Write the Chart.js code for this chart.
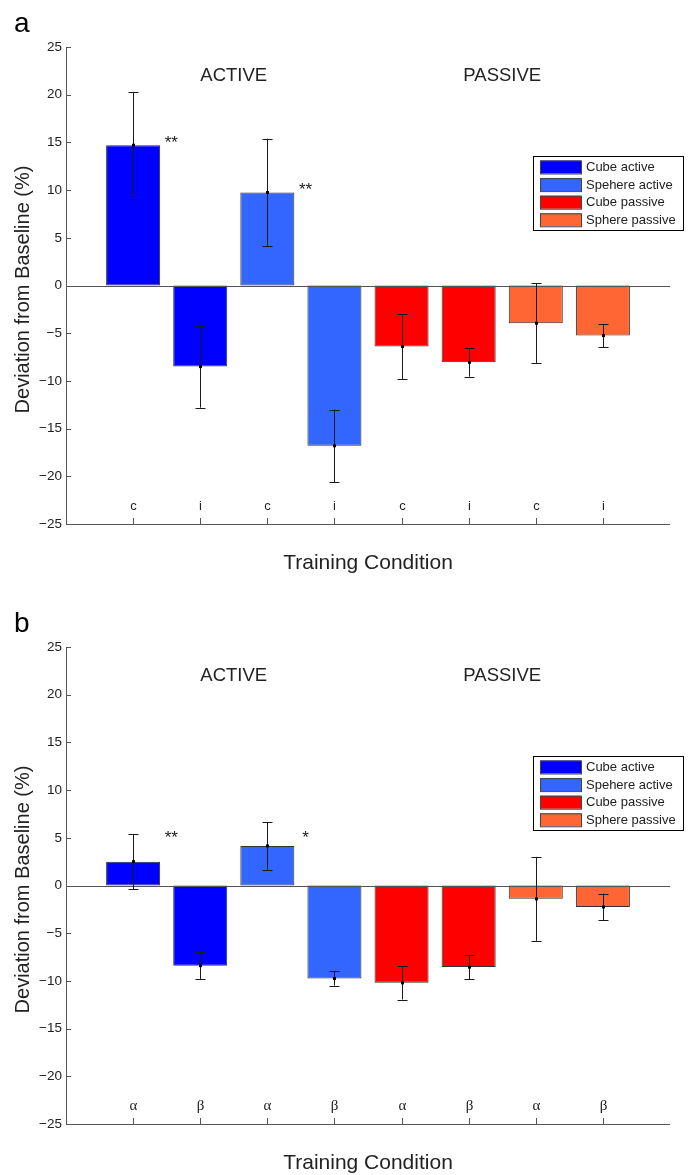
<!DOCTYPE html>
<html>
<head>
<meta charset="utf-8">
<script src="https://cdn.jsdelivr.net/npm/chart.js@4.4.1/dist/chart.umd.min.js"></script>
<style>
  html, body { margin: 0; padding: 0; background: #fff; width: 694px; height: 1175px; overflow: hidden; }
  .panel { position: absolute; left: 0; width: 694px; }
</style>
</head>
<body>
<div class="panel" style="top:0;height:600px"><canvas id="chartA" width="694" height="600"></canvas></div>
<div class="panel" style="top:600px;height:575px"><canvas id="chartB" width="694" height="575"></canvas></div>
<script>
// ---- data ----
const seriesNames = ['Cube active', 'Spehere active', 'Cube passive', 'Sphere passive'];
const groupLabels = ['ACTIVE', 'PASSIVE'];
const yTickValues = [-25, -20, -15, -10, -5, 0, 5, 10, 15, 20, 25];

// panel a
const tickLabelsA = ['c', 'i', 'c', 'i', 'c', 'i', 'c', 'i'];
const cubeActiveA = [14.7, -8.5];
const sphereActiveA = [9.75, -16.8];
const cubePassiveA = [-6.4, -8.05];
const spherePassiveA = [-3.95, -5.25];
const cubeActiveErrA = [5.6, 4.3];
const sphereActiveErrA = [5.65, 3.8];
const cubePassiveErrA = [3.4, 1.5];
const spherePassiveErrA = [4.2, 1.2];
const significanceA = ['**', '', '**', '', '', '', '', ''];
const significanceLevelA = [15.4, null, 10.5, null, null, null, null, null];

// panel b
const tickLabelsB = ['α', 'β', 'α', 'β', 'α', 'β', 'α', 'β'];
const cubeActiveB = [2.5, -8.4];
const sphereActiveB = [4.15, -9.75];
const cubePassiveB = [-10.2, -8.55];
const spherePassiveB = [-1.4, -2.25];
const cubeActiveErrB = [2.9, 1.45];
const sphereActiveErrB = [2.5, 0.75];
const cubePassiveErrB = [1.75, 1.3];
const spherePassiveErrB = [4.4, 1.4];
const significanceB = ['**', '', '*', '', '', '', '', ''];
const significanceLevelB = [5.5, null, 5.5, null, null, null, null, null];

// ---- styling ----
const seriesColors = ['#0000ff', '#3366ff', '#ff0000', '#ff6633'];
const SANS = '"Liberation Sans", Arial, Helvetica, sans-serif';
const SERIF = '"Liberation Serif", "Times New Roman", serif';
const TEXT = '#222';
const AXIS = '#555';

function buildDatasets(means, errs) {
  return means.map((vals, s) => ({
    label: seriesNames[s],
    data: vals.map((v, j) => ({ x: 2 * s + 1 + j, y: v })),
    errors: errs[s],
    backgroundColor: seriesColors[s],
    borderColor: '#333',
    borderWidth: 1,
    borderSkipped: false,
    grouped: false,
    categoryPercentage: 1,
    barPercentage: 0.805
  }));
}

function overlay(panel) {
  return {
    id: 'overlay' + panel.letter,
    afterDatasetsDraw(chart) {
      const ctx = chart.ctx;
      const xs = chart.scales.x, ys = chart.scales.y;
      const { left, right, top, bottom } = chart.chartArea;
      const ln = (x1, y1, x2, y2) => { ctx.beginPath(); ctx.moveTo(x1, y1); ctx.lineTo(x2, y2); ctx.stroke(); };
      ctx.save();

      // axes and zero line
      ctx.strokeStyle = AXIS;
      ctx.lineWidth = 1;
      const y0 = Math.round(ys.getPixelForValue(0)) + 0.5;
      ln(left, y0, right, y0);
      ln(Math.round(left) + 0.5, top, Math.round(left) + 0.5, bottom + 1);
      ln(left, Math.round(bottom) + 0.5, right, Math.round(bottom) + 0.5);

      // inward tick marks
      yTickValues.forEach(v => {
        const y = Math.round(ys.getPixelForValue(v)) + 0.5;
        ln(left, y, left + 5, y);
      });
      ctx.fillStyle = TEXT;
      ctx.textAlign = 'center';
      ctx.textBaseline = 'middle';
      panel.tickLabels.forEach((lab, i) => {
        const x = Math.round(xs.getPixelForValue(i + 1)) + 0.5;
        ln(x, bottom, x, bottom - 6);
        ctx.font = panel.greek ? '15px ' + SERIF : '13px ' + SANS;
        ctx.fillText(lab, x, bottom - 18);
      });

      // error bars
      ctx.strokeStyle = '#1a1a1a';
      chart.data.datasets.forEach(ds => {
        ds.data.forEach((pt, j) => {
          const x = Math.round(xs.getPixelForValue(pt.x)) + 0.5;
          const yHi = ys.getPixelForValue(pt.y + ds.errors[j]);
          const yLo = ys.getPixelForValue(pt.y - ds.errors[j]);
          const yM = ys.getPixelForValue(pt.y);
          ln(x, yHi, x, yLo);
          ln(x - 5, Math.round(yHi) + 0.5, x + 5, Math.round(yHi) + 0.5);
          ln(x - 5, Math.round(yLo) + 0.5, x + 5, Math.round(yLo) + 0.5);
          ctx.fillStyle = '#000';
          ctx.fillRect(x - 1.5, yM - 1.5, 3, 3);
        });
      });

      // significance markers
      ctx.fillStyle = TEXT;
      ctx.font = '17px ' + SANS;
      ctx.textAlign = 'center';
      ctx.textBaseline = 'alphabetic';
      panel.significance.forEach((mark, i) => {
        if (!mark) return;
        const x = xs.getPixelForValue(i + 1.57);
        const y = ys.getPixelForValue(panel.significanceLevel[i]) + 0.57 * 17;
        ctx.fillText(mark, x, y);
      });

      // group labels
      ctx.font = '18.5px ' + SANS;
      ctx.textBaseline = 'middle';
      groupLabels.forEach((g, k) => {
        ctx.fillText(g, xs.getPixelForValue(2.5 + 4 * k), ys.getPixelForValue(22));
      });

      // legend
      const lx = 533, ly = 156, lw = 150, lh = 74;
      ctx.fillStyle = '#fff';
      ctx.fillRect(lx, ly, lw, lh);
      ctx.strokeStyle = '#000';
      ctx.strokeRect(lx + 0.5, ly + 0.5, lw, lh);
      ctx.font = '13px ' + SANS;
      ctx.textAlign = 'left';
      chart.data.datasets.forEach((ds, s) => {
        const cy = ly + 11 + s * 17.6;
        ctx.fillStyle = ds.backgroundColor;
        ctx.fillRect(540, cy - 6.5, 41, 13);
        ctx.strokeStyle = '#444';
        ctx.strokeRect(540.5, cy - 6, 41, 13);
        ctx.fillStyle = TEXT;
        ctx.fillText(ds.label, 586, cy + 0.5);
      });

      // axis titles
      ctx.fillStyle = TEXT;
      ctx.textAlign = 'center';
      ctx.font = '20px ' + SANS;
      ctx.save();
      ctx.translate(23, (top + bottom) / 2 + 4);
      ctx.rotate(-Math.PI / 2);
      ctx.fillText('Deviation from Baseline (%)', 0, 0);
      ctx.restore();
      ctx.font = '21px ' + SANS;
      ctx.fillText('Training Condition', 368, bottom + 39);

      // panel letter
      ctx.textAlign = 'left';
      ctx.textBaseline = 'alphabetic';
      ctx.font = '28px ' + SANS;
      ctx.fillStyle = '#000';
      ctx.fillText(panel.letter, 14, 32);

      ctx.restore();
    }
  };
}

function makeChart(id, panel, means, errs) {
  const canvas = document.getElementById(id);
  const H = canvas.height;
  return new Chart(canvas, {
    type: 'bar',
    data: { datasets: buildDatasets(means, errs) },
    options: {
      responsive: false,
      animation: false,
      devicePixelRatio: 1,
      layout: { padding: { left: 0, right: 24, top: 47, bottom: H - 524 } },
      plugins: { legend: { display: false }, tooltip: { enabled: false } },
      scales: {
        x: {
          type: 'linear', min: 0, max: 9, offset: false, display: false,
          ticks: { stepSize: 1 }
        },
        y: {
          min: -25, max: 25,
          afterBuildTicks: s => { s.ticks = yTickValues.map(v => ({ value: v })); },
          afterFit: s => { s.width = 66; },
          grid: { display: false, drawTicks: false },
          border: { display: false },
          ticks: {
            padding: 4,
            color: TEXT,
            font: { family: SANS, size: 13.5 },
            callback: v => String(v).replace('-', '\u2212')
          }
        }
      }
    },
    plugins: [overlay(panel)]
  });
}

makeChart('chartA',
  { letter: 'a', tickLabels: tickLabelsA, greek: false, significance: significanceA, significanceLevel: significanceLevelA },
  [cubeActiveA, sphereActiveA, cubePassiveA, spherePassiveA],
  [cubeActiveErrA, sphereActiveErrA, cubePassiveErrA, spherePassiveErrA]);

makeChart('chartB',
  { letter: 'b', tickLabels: tickLabelsB, greek: true, significance: significanceB, significanceLevel: significanceLevelB },
  [cubeActiveB, sphereActiveB, cubePassiveB, spherePassiveB],
  [cubeActiveErrB, sphereActiveErrB, cubePassiveErrB, spherePassiveErrB]);
</script>
</body>
</html>
